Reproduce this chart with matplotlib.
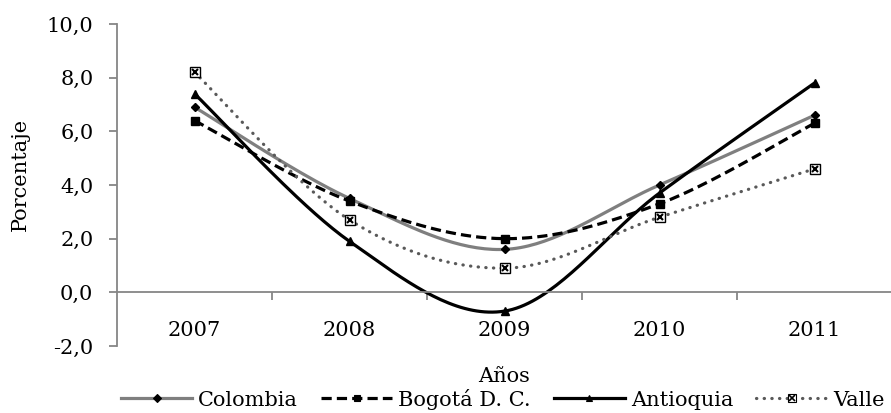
import numpy as np
import matplotlib
matplotlib.use("Agg")
import matplotlib.pyplot as plt
from matplotlib.lines import Line2D

years = ["2007", "2008", "2009", "2010", "2011"]
colombia = [6.9, 3.5, 1.6, 4.0, 6.6]
bogota = [6.4, 3.4, 2.0, 3.3, 6.3]
antioquia = [7.4, 1.9, -0.7, 3.7, 7.8]
valle = [8.2, 2.7, 0.9, 2.8, 4.6]

plt.rcParams['font.family'] = ['DejaVu Serif']
FS = 15

GRAY_AX = "#868686"


def smooth(x, y, n=40):
    # excel-like smoothed line (catmull-rom as bezier)
    pts = np.column_stack([x, y]).astype(float)
    out = []
    for i in range(len(pts) - 1):
        p0 = pts[i - 1] if i > 0 else pts[i]
        p1 = pts[i]
        p2 = pts[i + 1]
        p3 = pts[i + 2] if i + 2 < len(pts) else pts[i + 1]
        c1 = p1 + (p2 - p0) / 6
        c2 = p2 - (p3 - p1) / 6
        t = np.linspace(0, 1, n)[:, None]
        seg = ((1 - t) ** 3 * p1 + 3 * (1 - t) ** 2 * t * c1
               + 3 * (1 - t) * t ** 2 * c2 + t ** 3 * p2)
        out.append(seg if i == 0 else seg[1:])
    out = np.vstack(out)
    return out[:, 0], out[:, 1]


fig = plt.figure(figsize=(8.91, 4.13), dpi=100)
ax = fig.add_axes([117 / 891, 1 - 346 / 413, 775 / 891, 322 / 413])

xpos = np.arange(len(years))

series = [
    (colombia, dict(color="#7f7f7f", lw=2.3, ls="-"), dict(marker="D", ms=4.5)),
    (bogota, dict(color="black", lw=2.3, ls=(0, (3.2, 1.6))), dict(marker="s", ms=6)),
    (antioquia, dict(color="black", lw=2.3, ls="-"), dict(marker="^", ms=6)),
    (valle, dict(color="#595959", lw=2.3, ls=(0, (0.1, 2.3)), dash_capstyle="round"),
     dict(marker="s", ms=6.5, mfc="white")),
]

handles = []
for vals, lstyle, mstyle in series:
    sx, sy = smooth(xpos, vals)
    ls = dict(lstyle)
    cap = ls.pop("dash_capstyle", "butt")
    ax.plot(sx, sy, solid_capstyle="butt", dash_capstyle=cap, zorder=2, **ls)
    mfc = mstyle.get("mfc", "black")
    ax.plot(xpos, vals, ls="none", marker=mstyle["marker"], ms=mstyle["ms"],
            mfc=mfc, mec="black", mew=1.0, zorder=3)
    h = Line2D([], [], marker=mstyle["marker"], ms=mstyle["ms"] * 0.8,
               mfc=mfc, mec="black", mew=0.8, dash_capstyle=cap, **ls)
    handles.append(h)

# cross inside the Valle markers
ax.plot(xpos, valle, ls="none", marker="x", ms=5, mec="black", mew=1.5, zorder=4)
valle_x = Line2D([], [], ls="none", marker="x", ms=4, mec="black", mew=1.2)
handles[3] = (handles[3], valle_x)

ax.set_xlim(-0.5, 4.5)
ax.set_ylim(-2, 10)
ax.set_yticks(np.arange(-2, 10.1, 2))
ax.set_yticklabels([f"{v:.1f}".replace(".", ",") for v in np.arange(-2, 10.1, 2)])

ax.set_xticks([0.5, 1.5, 2.5, 3.5])
ax.set_xticklabels([])
ax.set_xticks(xpos, minor=True)
ax.set_xticklabels(years, minor=True)

for s in ["top", "right"]:
    ax.spines[s].set_visible(False)
ax.spines["bottom"].set_position(("data", 0))
for s in ["left", "bottom"]:
    ax.spines[s].set_color(GRAY_AX)
    ax.spines[s].set_linewidth(1.3)

ax.tick_params(axis="y", which="major", direction="out", length=6, width=1.3,
               color=GRAY_AX, labelsize=FS, pad=11)
ax.tick_params(axis="x", which="major", direction="out", length=6, width=1.3,
               color=GRAY_AX)
ax.tick_params(axis="x", which="minor", length=0, labelsize=FS, pad=21)

fig.text(20 / 891, 1 - 174 / 413, "Porcentaje", rotation=90, fontsize=FS,
         ha="center", va="center")
fig.text(504 / 891, 1 - 377 / 413, "Años", fontsize=FS, ha="center", va="center")

fig.legend(handles, ["Colombia", "Bogotá D. C.", "Antioquia", "Valle"],
           loc="center", bbox_to_anchor=(503 / 891, 1 - 399 / 413), ncol=4,
           frameon=False, fontsize=FS, handlelength=3.4, handletextpad=0.3,
           columnspacing=1.1, borderpad=0, numpoints=1)

fig.savefig("out.png", dpi=100)
